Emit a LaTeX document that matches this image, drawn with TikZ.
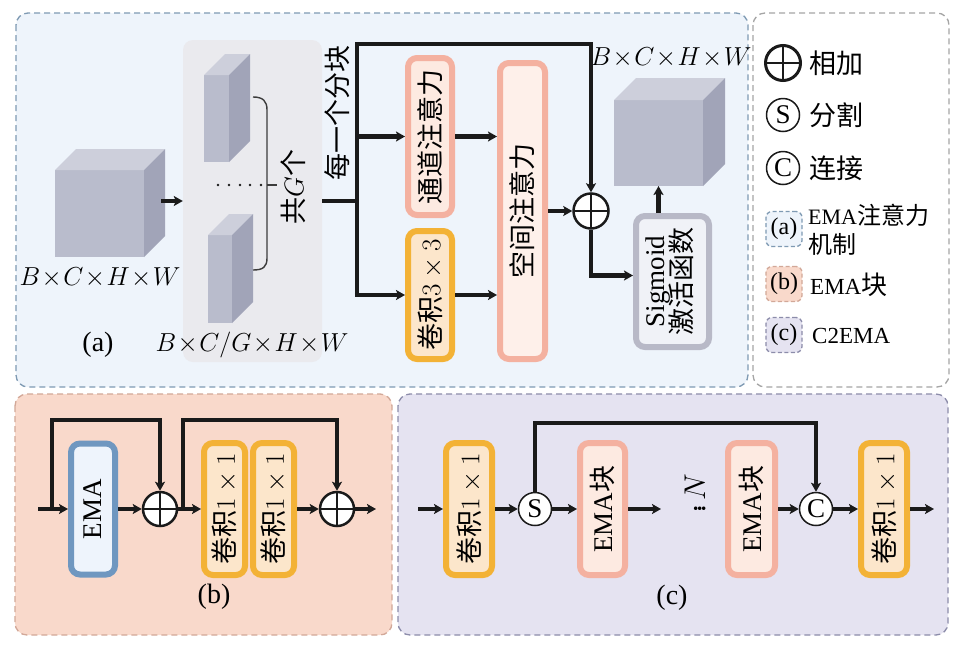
\RequirePackage{fix-cm}
\documentclass[tikz,border=0pt]{standalone}
\usepackage{fontspec}
\usepackage{graphicx}
\setmainfont{Liberation Serif}
\newfontfamily\cjkfont{Noto Sans CJK SC}
\usetikzlibrary{arrows.meta,calc}
\newcommand{\zh}[1]{{\cjkfont #1}}
\newcommand{\fsz}[1]{\fontsize{#1}{#1}\selectfont}
\newcommand{\drawcube}[5]{%
  \fill[cbF] (#1,#2) rectangle (#3,#4);
  \fill[cbT] (#1,#2) -- ({#1+#5},{#2-#5}) -- ({#3+#5},{#2-#5}) -- (#3,#2) -- cycle;
  \fill[cbR] (#3,#2) -- ({#3+#5},{#2-#5}) -- ({#3+#5},{#4-#5}) -- (#3,#4) -- cycle;
}
\definecolor{ink}{HTML}{1A1A1A}
\definecolor{paF}{HTML}{EEF4FB}
\definecolor{paB}{HTML}{7F9AB3}
\definecolor{lgB}{HTML}{A5A5A5}
\definecolor{pbF}{HTML}{F9D9CB}
\definecolor{pbB}{HTML}{D2A898}
\definecolor{pcF}{HTML}{E5E3F1}
\definecolor{pcB}{HTML}{8C8CAA}
\definecolor{grpF}{HTML}{EAEAEE}
\definecolor{salB}{HTML}{F4B1A0}
\definecolor{salF}{HTML}{FDEAE1}
\definecolor{orB}{HTML}{F3B236}
\definecolor{orF}{HTML}{FCE6CB}
\definecolor{blB}{HTML}{6F97C0}
\definecolor{blF}{HTML}{EEF4FC}
\definecolor{sgB}{HTML}{B8B9C7}
\definecolor{sgF}{HTML}{F0F2F7}
\definecolor{cbF}{HTML}{B9BCCC}
\definecolor{cbT}{HTML}{CDCFDB}
\definecolor{cbR}{HTML}{A1A4B8}
\begin{document}
\begin{tikzpicture}[x=1pt,y=-1pt,
  arr/.style={line width=4.5pt, draw=ink, -{Stealth[length=9pt,width=10pt,inset=2pt]}},
  ln/.style={line width=4.5pt, draw=ink},
  panel/.style={dash pattern=on 6pt off 4pt, line width=1.3pt, rounded corners=12pt},
  blk/.style={rounded corners=9pt, line width=6pt, inner sep=0pt, font=\fsz{27}},
  salm/.style={blk, draw=salB, fill=salF},
  oran/.style={blk, draw=orB, fill=orF},
  plusc/.style={circle, draw=ink, fill=white, line width=2.5pt, minimum size=34pt, inner sep=0pt,
    path picture={\draw[line width=2.5pt, ink] (path picture bounding box.north) -- (path picture bounding box.south)
      (path picture bounding box.west) -- (path picture bounding box.east);}},
  letc/.style={circle, draw=ink, fill=white, line width=1.5pt, minimum size=33pt, inner sep=0pt, font=\fsz{27}},
  lgbox/.style={rounded corners=6pt, dash pattern=on 4pt off 2.5pt, line width=1.3pt, minimum width=36pt, minimum height=35pt, inner sep=0pt, font=\fsz{24}},
  lbl/.style={font=\fsz{26}, inner sep=0pt},
  zhl/.style={font=\fsz{27}\cjkfont, inner sep=0pt},
]
\useasboundingbox (0,0) rectangle (961,646);
\fill[white] (0,0) rectangle (961,646);
% panels
\filldraw[panel, fill=paF, draw=paB] (16,13) rectangle (748,387);
\filldraw[panel, fill=white, draw=lgB] (753,13) rectangle (949,387);
\filldraw[panel, fill=pbF, draw=pbB] (15,394) rectangle (392,635);
\filldraw[panel, fill=pcF, draw=pcB] (398,394) rectangle (948,635);

% ---------- panel (a) ----------
\drawcube{55}{170}{144}{257}{21}
\coordinate (cubeLout) at (161,201);
\node[lbl] (lblL) at (100,278) {$B\!\times\! C\!\times\! H\!\times\! W$};
\node[fill=grpF, rounded corners=10pt, minimum width=139pt, minimum height=322pt, inner sep=0pt] (grp) at (252.5,201) {};
\draw[arr] (cubeLout) -- (grp.west);
\drawcube{204}{75}{229}{162}{21}
\drawcube{208}{235}{232}{323}{21}
\foreach \xx in {218,229,240,250,261} \fill[ink] (\xx,185) circle (1.4pt);
\draw[line width=1.4pt, draw=ink!85] (253,97) .. controls (263,97) and (267,101) .. (267,110) -- (267,258) .. controls (267,267) and (263,270) .. (253,270);
\draw[line width=1.4pt, draw=ink!85] (267,185) -- (277,185);
\node[zhl, rotate=90] (gcount) at (293,187) {共$G$个};
\node[lbl] (lblG) at (252,345) {$B\!\times\! C/G\!\times\! H\!\times\! W$};
\node[lbl, font=\fsz{28}] (la) at (98,345) {(a)};
\node[zhl, rotate=90] (perblk) at (337,113) {每一个分块};

\node[salm, minimum width=44pt, minimum height=157pt] (ch) at (430,136.5) {\rotatebox{90}{\zh{通道注意力}}};
\node[oran, minimum width=44pt, minimum height=128pt] (cv3) at (430,295) {\rotatebox{90}{\zh{卷积}$3\times 3$}};
\node[salm, fill=salF!70!white, minimum width=45pt, minimum height=296pt] (sp) at (522.5,211) {\rotatebox{90}{\zh{空间注意力}}};
\node[plusc, minimum size=35pt] (plus) at (591,211) {};
\node[blk, draw=sgB, fill=sgF, minimum width=73pt, minimum height=131pt] (sig) at (672.5,281.5)
  {\rotatebox{90}{\begin{tabular}{@{}c@{}}Sigmoid\\[-3pt]\zh{激活函数}\end{tabular}}};
\drawcube{614}{100}{703}{186}{22}
\coordinate (cubeRbot) at (658.5,186);
\node[lbl] (lblR) at (671,58) {$B\!\times\! C\!\times\! H\!\times\! W$};

\coordinate (jn) at (357,201);
\coordinate (tT) at (357,44);
\draw[ln] (grp.east) -- (jn);
\draw[arr] (cv3.west -| tT) -- (tT) -| (plus.north);
\draw[arr] ($(cv3.west -| tT)+(-2.25,0)$) -- (cv3.west);
\draw[arr] (ch.west -| tT) -- (ch.west);
\draw[arr] (ch.east) -- (ch.east -| sp.west);
\draw[arr] (cv3.east) -- (cv3.east -| sp.west);
\draw[arr] (sp.east) -- (plus.west);
\draw[arr] (plus.south) |- ($(sig.west)+(0,-6)$);
\draw[arr] (sig.north -| cubeRbot) -- (cubeRbot);

% ---------- legend ----------
\node[plusc, minimum size=35pt, line width=3pt] (lgP) at (783,63) {};
\node[letc] (lgS) at (783,115) {S};
\node[letc] (lgC) at (783,168) {C};
\node[zhl, anchor=west] (tP) at (809,63) {相加};
\node[zhl, anchor=west] (tS) at (809,115) {分割};
\node[zhl, anchor=west] (tC) at (809,168) {连接};
\node[lgbox, fill=paF, draw=paB] (lga) at (784,229) {(a)};
\node[lgbox, fill=pbF, draw=pbB] (lgb) at (784,284) {(b)};
\node[lgbox, fill=pcF, draw=pcB] (lgc) at (784,335) {(c)};
\node[anchor=west, inner sep=0pt, font=\fsz{22}] (ta1) at (808,215) {EMA\zh{\fsz{24}注意力}};
\node[anchor=west, inner sep=0pt, font=\fsz{24}\cjkfont] (ta2) at (808,244) {机制};
\node[anchor=west, inner sep=0pt, font=\fsz{23}] (tb) at (810,285) {EMA\zh{\fsz{26}块}};
\node[anchor=west, inner sep=0pt, font=\fsz{23}] (tc) at (812,336) {C2EMA};

% ---------- panel (b) ----------
\node[blk, draw=blB, fill=blF, minimum width=44pt, minimum height=131pt] (ema) at (93,509) {\rotatebox{90}{EMA}};
\node[plusc] (p1) at (160,509) {};
\node[oran, minimum width=41pt, minimum height=132pt] (cv1) at (224.5,509) {\rotatebox{90}{\zh{卷积}$1\times 1$}};
\node[oran, minimum width=41pt, minimum height=132pt] (cv2) at (273.5,509) {\rotatebox{90}{\zh{卷积}$1\times 1$}};
\node[plusc] (p2) at (337,509) {};
\node[lbl, font=\fsz{28}] (lb) at (214,597) {(b)};
\coordinate (bin) at (38,509);
\coordinate (bs1) at (52,509);
\coordinate (bk1) at (52,420);
\coordinate (bs2) at (183,509);
\coordinate (bk2) at (183,420);
\coordinate (bout) at (376,509);
\draw[arr] (bin) -- (ema.west);
\draw[arr] (bs1) -- (bk1) -| (p1.north);
\draw[arr] (ema.east) -- (p1.west);
\draw[arr] (p1.east) -- (cv1.west);
\draw[arr] (bs2) -- (bk2) -| (p2.north);
\draw[arr] (cv2.east) -- (p2.west);
\draw[arr] (p2.east) -- (bout);

% ---------- panel (c) ----------
\node[oran, minimum width=46pt, minimum height=132pt] (c1) at (469,509) {\rotatebox{90}{\zh{卷积}$1\times 1$}};
\node[letc] (sS) at (535,509) {S};
\node[salm, minimum width=45pt, minimum height=132pt] (e1) at (602.5,509) {\rotatebox{90}{EMA\zh{块}}};
\node[rotate=90, inner sep=0pt, font=\fsz{30}] (dN) at (695,493) {$\vdots\,N$};
\node[salm, minimum width=47pt, minimum height=132pt] (e2) at (751.5,509) {\rotatebox{90}{EMA\zh{块}}};
\node[letc] (cC) at (816,509) {C};
\node[oran, minimum width=46pt, minimum height=132pt] (c2) at (884,509) {\rotatebox{90}{\zh{卷积}$1\times 1$}};
\node[lbl, font=\fsz{28}] (lc) at (672,598) {(c)};
\coordinate (cin) at (418,509);
\coordinate (cmid) at (661,509);
\coordinate (cout) at (934,509);
\coordinate (ck) at (0,423);
\draw[arr] (cin) -- (c1.west);
\draw[arr] (c1.east) -- (sS.west);
\draw[arr] (sS.east) -- (e1.west);
\draw[arr] (e1.east) -- (cmid);
\draw[arr] (e2.east) -- (cC.west);
\draw[arr] (cC.east) -- (c2.west);
\draw[arr] (c2.east) -- (cout);
\draw[arr] (sS.north) -- (sS.north |- ck) -| (cC.north);
\end{tikzpicture}
\end{document}
